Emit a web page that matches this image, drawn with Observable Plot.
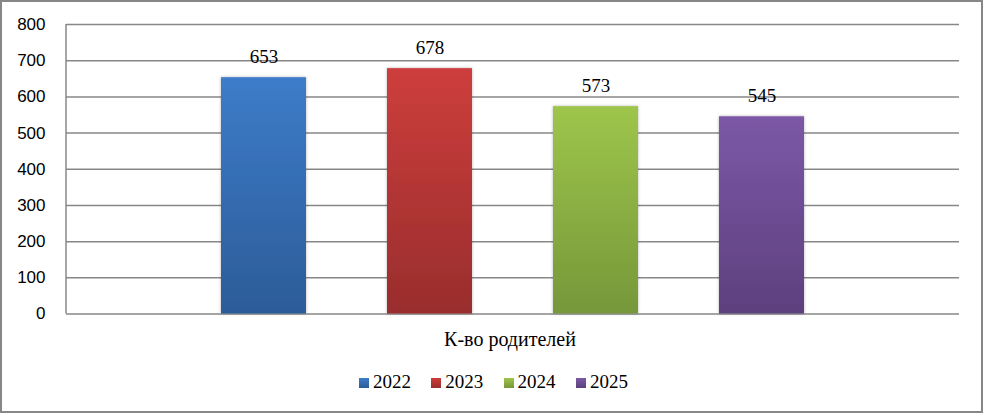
<!DOCTYPE html>
<html>
<head>
<meta charset="utf-8">
<script src="https://cdn.jsdelivr.net/npm/d3@7"></script>
<script src="https://cdn.jsdelivr.net/npm/@observablehq/plot@0.6"></script>
<style>
  html, body { margin: 0; padding: 0; background: #fff; }
  #wrap { position: relative; width: 983px; height: 413px; overflow: hidden; background: #fff; }
  #border { position: absolute; left: 0; top: 0; width: 983px; height: 413px; box-sizing: border-box; border: 2px solid #878787; pointer-events: none; }
  #chart { position: absolute; left: 0; top: 0; }
  #legend { position: absolute; left: 359px; top: 371px; display: flex; font-family: "Liberation Serif", "DejaVu Serif", serif; font-size: 19px; color: #000; }
  .item { width: 72.3px; display: flex; align-items: center; white-space: nowrap; }
  .sw { width: 10px; height: 10px; margin-right: 4px; margin-top: 1px; }
</style>
</head>
<body>
<div id="wrap">
  <div id="chart"></div>
  <div id="legend"></div>
  <div id="border"></div>
</div>
<script>
const years = ["2022", "2023", "2024", "2025"];
const values = [653, 678, 573, 545];
const yTicks = [0, 100, 200, 300, 400, 500, 600, 700, 800];
const categoryLabel = "К-во родителей";
const topColors = ["#3d7cc9", "#cd3e3c", "#9ec54b", "#7c58a6"];
const bottomColors = ["#2c5c98", "#992d2d", "#76973a", "#5d407e"];

const data = years.map((y, i) => ({year: y, value: values[i]}));

const defsMark = () => {
  const defs = d3.create("svg:defs");
  years.forEach((y, i) => {
    const g = defs.append("linearGradient").attr("id", "grad" + y)
      .attr("x1", 0).attr("y1", 0).attr("x2", 0).attr("y2", 1);
    g.append("stop").attr("offset", "0%").attr("stop-color", topColors[i]);
    g.append("stop").attr("offset", "100%").attr("stop-color", bottomColors[i]);
  });
  const f = defs.append("filter").attr("id", "shadow")
    .attr("x", "-10%").attr("y", "-10%").attr("width", "120%").attr("height", "120%");
  f.append("feDropShadow").attr("dx", 0).attr("dy", 0).attr("stdDeviation", 1.6)
    .attr("flood-color", "#000").attr("flood-opacity", 0.3);
  return defs.node();
};

const leftAxisLine = (index, scales, values, dims) => {
  const g = d3.create("svg:g");
  g.append("line")
    .attr("x1", dims.marginLeft).attr("x2", dims.marginLeft)
    .attr("y1", scales.y(yTicks[yTicks.length - 1])).attr("y2", scales.y(0))
    .attr("stroke", "#878787").attr("stroke-width", 1.5);
  return g.node();
};

const serif = "'Liberation Serif', 'DejaVu Serif', serif";

const chart = Plot.plot({
  width: 983,
  height: 413,
  marginLeft: 66,
  marginRight: 24,
  marginTop: 24,
  marginBottom: 99.5,
  style: {background: "transparent", fontFamily: "'Liberation Sans', Arial, sans-serif", color: "#000"},
  x: {domain: years, type: "band", paddingInner: 0.49, paddingOuter: 0.926, axis: null},
  y: {domain: [0, 800], axis: null},
  color: {type: "identity"},
  marks: [
    defsMark,
    Plot.ruleY(yTicks, {stroke: "#878787", strokeWidth: 1.5}),
    leftAxisLine,
    Plot.axisY({ticks: yTicks, tickSize: 0, tickPadding: 21, fontSize: 17, fill: "#000", label: null}),
    Plot.barY(data, {x: "year", y: "value", fill: d => "url(#grad" + d.year + ")"}),
    Plot.text(data, {x: "year", y: "value", text: d => String(d.value), dy: -15, lineAnchor: "bottom",
      fontSize: 19, fontFamily: serif, fill: "#000"}),
    Plot.text([categoryLabel], {frameAnchor: "bottom", text: d => d, dy: 32, dx: -3, lineAnchor: "bottom",
      fontSize: 20, fontFamily: serif, fill: "#000"})
  ]
});
d3.select(chart).selectAll("[aria-label='bar'] rect").attr("filter", "url(#shadow)");
document.getElementById("chart").appendChild(chart);

const legend = d3.select("#legend");
years.forEach((y, i) => {
  const item = legend.append("div").attr("class", "item");
  item.append("div").attr("class", "sw")
    .style("background", `linear-gradient(${topColors[i]}, ${bottomColors[i]})`);
  item.append("span").text(y);
});
</script>
</body>
</html>
